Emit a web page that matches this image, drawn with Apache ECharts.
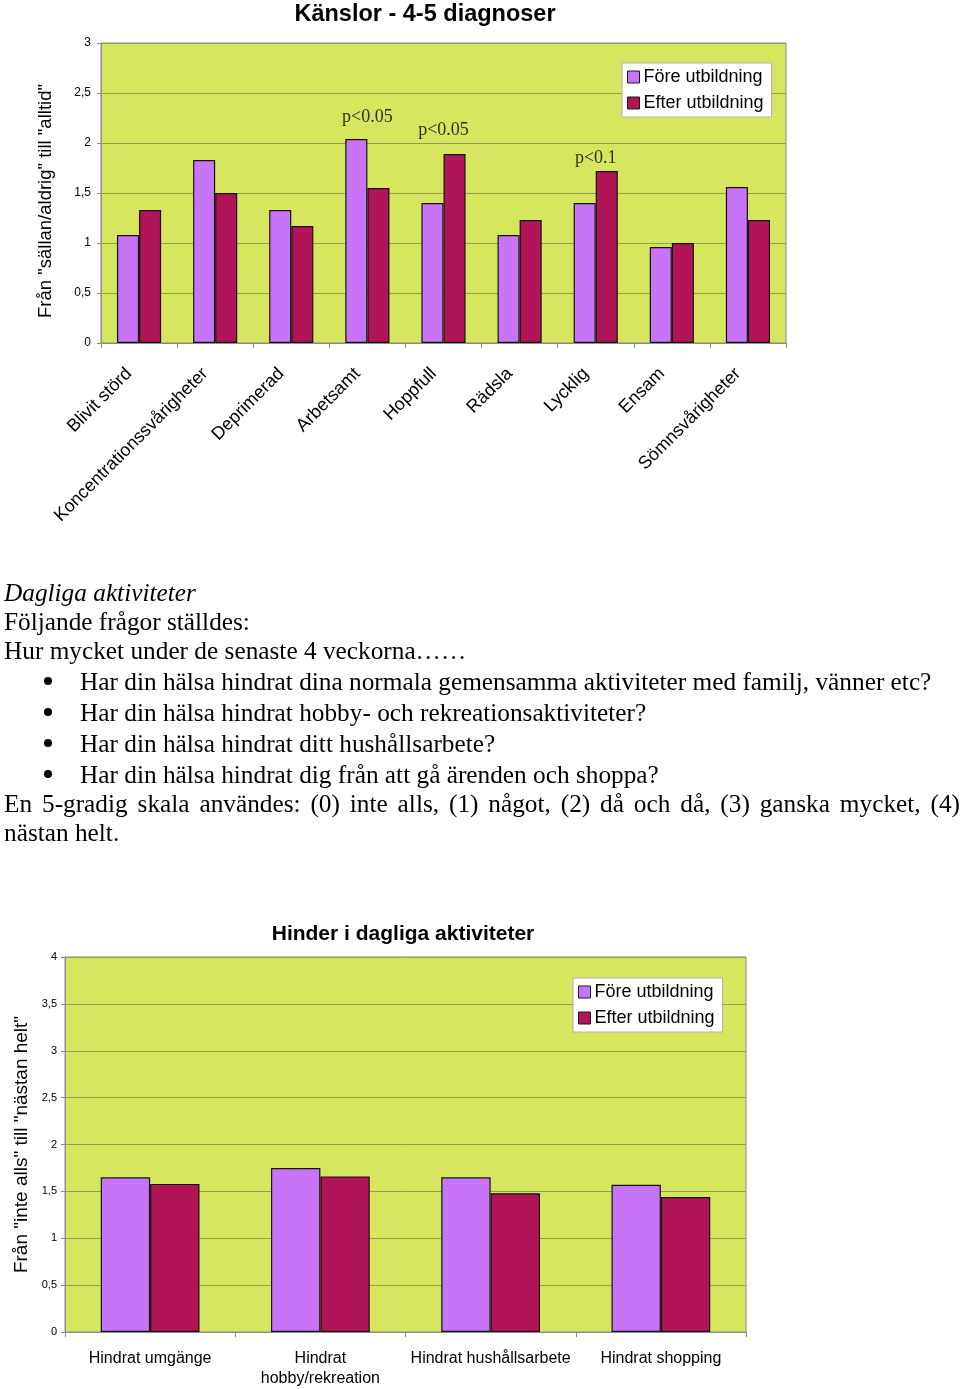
<!DOCTYPE html>
<html>
<head>
<meta charset="utf-8">
<script src="https://cdn.jsdelivr.net/npm/echarts@6/dist/echarts.min.js"></script>
<style>
  html, body { margin: 0; padding: 0; background: #fff; }
  #chart { position: absolute; left: 0; top: 0; width: 960px; height: 1389px; }
  .t { position: absolute; font-family: "Liberation Serif", "Times New Roman", serif; font-size: 25.3px; line-height: 30px; color: #000; white-space: nowrap; }
  .b { position: absolute; left: 44px; width: 8px; height: 8px; border-radius: 50%; background: #000; }
</style>
</head>
<body>
<div id="chart"></div>
<div class="t" style="left:4px;top:577px;font-style:italic;">Dagliga aktiviteter</div>
<div class="t" style="left:4px;top:606px;">Följande frågor ställdes:</div>
<div class="t" style="left:4px;top:635px;">Hur mycket under de senaste 4 veckorna……</div>
<div class="b" style="top:677px;"></div>
<div class="t" style="left:80px;top:666px;">Har din hälsa hindrat dina normala gemensamma aktiviteter med familj, vänner etc?</div>
<div class="b" style="top:708px;"></div>
<div class="t" style="left:80px;top:697px;">Har din hälsa hindrat hobby- och rekreationsaktiviteter?</div>
<div class="b" style="top:739px;"></div>
<div class="t" style="left:80px;top:728px;">Har din hälsa hindrat ditt hushållsarbete?</div>
<div class="b" style="top:770px;"></div>
<div class="t" style="left:80px;top:759px;">Har din hälsa hindrat dig från att gå ärenden och shoppa?</div>
<div class="t" style="left:4px;top:788px;width:956px;white-space:normal;text-align:justify;text-align-last:justify;">En 5-gradig skala användes: (0) inte alls, (1) något, (2) då och då, (3) ganska mycket, (4)</div>
<div class="t" style="left:4px;top:817px;">nästan helt.</div>
<script>
// ---- Data: chart 1 ----
const emoCategories = ['Blivit störd', 'Koncentrationssvårigheter', 'Deprimerad', 'Arbetsamt', 'Hoppfull', 'Rädsla', 'Lycklig', 'Ensam', 'Sömnsvårigheter'];
const emoFore  = [1.08, 1.83, 1.33, 2.04, 1.40, 1.08, 1.40, 0.96, 1.56];
const emoEfter = [1.33, 1.50, 1.17, 1.55, 1.89, 1.23, 1.72, 1.00, 1.23];
const emoPNotes = [['Arbetsamt', 2.26, 'p<0.05'], ['Hoppfull', 2.13, 'p<0.05'], ['Lycklig', 1.85, 'p<0.1']];

// ---- Data: chart 2 ----
const hinderCategories = ['Hindrat umgänge', 'Hindrat\nhobby/rekreation', 'Hindrat hushållsarbete', 'Hindrat shopping'];
const hinderFore  = [1.65, 1.75, 1.65, 1.57];
const hinderEfter = [1.58, 1.66, 1.48, 1.44];

const seriesNames = ['Före utbildning', 'Efter utbildning'];
const colFore = '#c774f8', colEfter = '#b11457';
const plotBg = '#d6e65e', gridCol = '#94a04a', frameCol = '#8c8c8c';
const sans = 'Liberation Sans, Arial, sans-serif';
const commaFmt = v => String(v).replace('.', ',');

const chart = echarts.init(document.getElementById('chart'), null, { renderer: 'canvas' });

function barSeries(name, data, color, xi) {
  return {
    type: 'bar', name: name, data: data, xAxisIndex: xi, yAxisIndex: xi,
    barGap: '0%', barCategoryGap: '42%',
    itemStyle: { color: color, borderColor: '#141414', borderWidth: 1.2 },
    emphasis: { disabled: true }, animation: false
  };
}

const legendCommon = {
  orient: 'vertical', backgroundColor: '#fff', borderColor: '#b0b0b0', borderWidth: 1,
  padding: [4, 8, 4, 5], itemGap: 6, itemWidth: 12, itemHeight: 12, icon: 'rect',
  itemStyle: { borderColor: '#1a1a1a', borderWidth: 1 },
  textStyle: { fontFamily: sans, fontSize: 18, color: '#000', lineHeight: 20, padding: [0, 0, 0, -1] },
  selectedMode: false, data: seriesNames
};

chart.setOption({
  animation: false,
  title: [
    { text: 'Känslor - 4-5 diagnoser', left: 420, top: -2, textAlign: 'center',
      textStyle: { fontFamily: sans, fontSize: 23.5, fontWeight: 'bold', color: '#000' } },
    { text: 'Hinder i dagliga aktiviteter', left: 398, top: 919, textAlign: 'center',
      textStyle: { fontFamily: sans, fontSize: 21, fontWeight: 'bold', color: '#000' } }
  ],
  legend: [
    Object.assign({}, legendCommon, { left: 622, top: 63 }),
    Object.assign({}, legendCommon, { left: 573, top: 978 })
  ],
  grid: [
    { left: 101, top: 43, width: 685, height: 300, show: true, backgroundColor: plotBg, borderColor: frameCol, borderWidth: 1 },
    { left: 65, top: 957, width: 681, height: 378, show: true, backgroundColor: plotBg, borderColor: frameCol, borderWidth: 1 }
  ],
  xAxis: [
    { type: 'category', gridIndex: 0, data: emoCategories,
      axisLine: { lineStyle: { color: frameCol } },
      axisTick: { show: true, length: 5, lineStyle: { color: frameCol } },
      axisLabel: { rotate: 45, margin: 18, padding: [0, 14, 0, 0], fontFamily: sans, fontSize: 18, color: '#000', interval: 0 } },
    { type: 'category', gridIndex: 1, data: hinderCategories,
      axisLine: { lineStyle: { color: frameCol } },
      axisTick: { show: true, length: 5, lineStyle: { color: frameCol } },
      axisLabel: { margin: 17, fontFamily: sans, fontSize: 16, lineHeight: 20, color: '#000', interval: 0 } }
  ],
  yAxis: [
    { type: 'value', gridIndex: 0, min: 0, max: 3, interval: 0.5,
      name: 'Från "sällan/aldrig" till "alltid"', nameLocation: 'middle', nameRotate: 90, nameGap: 46,
      nameTextStyle: { fontFamily: sans, fontSize: 18.5, color: '#000', padding: [0, 16, 0, 0] },
      axisLine: { show: true, lineStyle: { color: frameCol } },
      axisTick: { show: true, length: 4, lineStyle: { color: frameCol } },
      splitLine: { lineStyle: { color: gridCol, width: 1 } },
      axisLabel: { margin: 10, fontFamily: sans, fontSize: 12, color: '#000', formatter: commaFmt } },
    { type: 'value', gridIndex: 1, min: 0, max: 4, interval: 0.5,
      name: 'Från "inte alls" till "nästan helt"', nameLocation: 'middle', nameRotate: 90, nameGap: 28,
      nameTextStyle: { fontFamily: sans, fontSize: 19, color: '#000' },
      axisLine: { show: true, lineStyle: { color: frameCol } },
      axisTick: { show: true, length: 4, lineStyle: { color: frameCol } },
      splitLine: { lineStyle: { color: gridCol, width: 1 } },
      axisLabel: { margin: 8, fontFamily: sans, fontSize: 11, color: '#000', formatter: commaFmt } }
  ],
  series: [
    barSeries(seriesNames[0], emoFore, colFore, 0),
    barSeries(seriesNames[1], emoEfter, colEfter, 0),
    { type: 'scatter', name: 'p', xAxisIndex: 0, yAxisIndex: 0, data: emoPNotes,
      symbolSize: 0, silent: true, z: 10,
      label: { show: true, position: 'inside', formatter: p => p.value[2],
        fontFamily: 'Liberation Serif, Times New Roman, serif', fontSize: 18, color: '#000' } },
    barSeries(seriesNames[0], hinderFore, colFore, 1),
    barSeries(seriesNames[1], hinderEfter, colEfter, 1)
  ]
});
</script>
</body>
</html>
